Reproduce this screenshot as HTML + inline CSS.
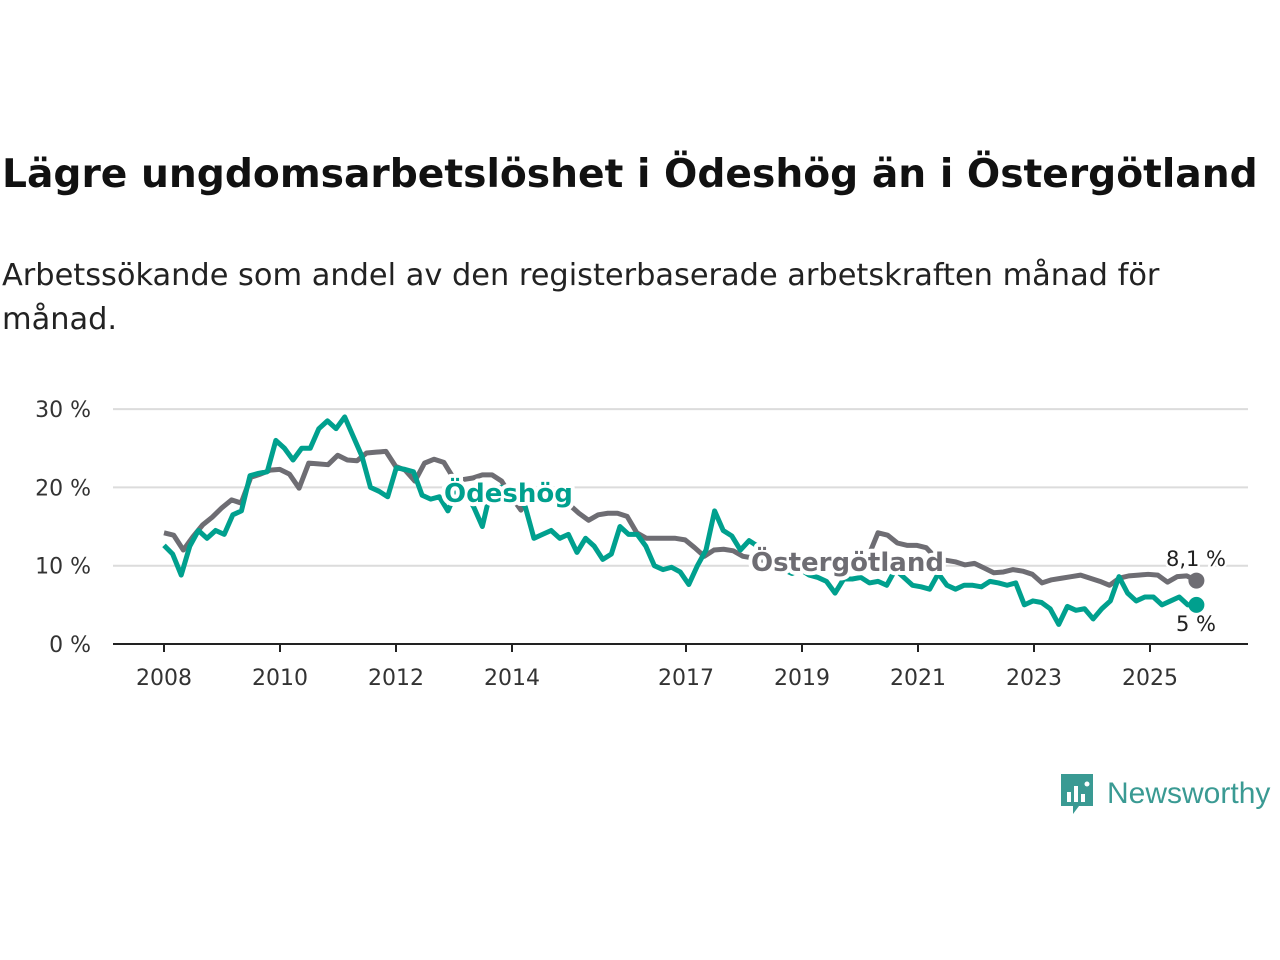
<!DOCTYPE html>
<html><head><meta charset="utf-8"><style>
body{margin:0;width:1280px;height:960px;background:#fff;font-family:"DejaVu Sans","Liberation Sans",sans-serif;overflow:hidden}
h1{position:absolute;left:2px;top:152px;margin:0;font-size:39.2px;font-weight:bold;color:#111;white-space:nowrap}
p.sub{position:absolute;left:2px;top:254px;margin:0;font-size:30.4px;line-height:44px;color:#222;width:1200px}
</style></head><body>
<h1>Lägre ungdomsarbetslöshet i Ödeshög än i Östergötland</h1>
<p class="sub">Arbetssökande som andel av den registerbaserade arbetskraften månad för månad.</p>
<svg id="chart" width="1280" height="960" style="position:absolute;left:0;top:0;font-family:'DejaVu Sans',sans-serif"></svg>
<div style="position:absolute;left:1059px;top:772px;display:flex;align-items:center">
<svg width="36" height="44" viewBox="0 0 36 44"><path d="M2 2h32v32H20l-6 8v-8H2z" fill="#3a9a93"/><rect x="8" y="20" width="4" height="10" fill="#fff"/><rect x="15" y="14" width="4" height="16" fill="#fff"/><rect x="22" y="22" width="4" height="8" fill="#fff"/><circle cx="28" cy="12" r="2.5" fill="#fff"/></svg>
<span style="font-family:'Liberation Sans',sans-serif;font-size:30px;color:#3a9a93;margin-left:12px">Newsworthy</span></div>
<script>
const yTicks=[0,10,20,30];
const xTickYears=[2008,2010,2012,2014,2017,2019,2021,2023,2025];
const ostergotland=[14.2,13.9,12,13.7,15.2,16.2,17.4,18.4,18,21.3,21.7,22.2,22.3,21.7,19.9,23.1,23,22.9,24.1,23.5,23.4,24.4,24.5,24.6,22.7,22.2,20.8,23.1,23.6,23.2,21.2,21,21.2,21.6,21.6,20.8,18.8,17.1,19.7,19.7,19.2,18.4,17.8,16.7,15.8,16.5,16.7,16.7,16.3,14.2,13.5,13.5,13.5,13.5,13.3,12.3,11.2,12,12.1,11.9,11.2,11,10.7,10.5,10.5,10.3,10.1,10,10,10.1,10.3,10.5,10.6,11.2,14.2,13.9,12.9,12.6,12.6,12.3,11,10.7,10.5,10.1,10.3,9.7,9.1,9.2,9.5,9.3,8.9,7.8,8.2,8.4,8.6,8.8,8.4,8,7.5,8.4,8.7,8.8,8.9,8.8,7.9,8.6,8.7,8.1];
const odeshog=[12.6,11.5,8.8,12.5,14.5,13.5,14.5,14,16.5,17,21.5,21.8,22,26,25,23.5,25,25,27.5,28.5,27.5,29,26.5,24,20,19.5,18.8,22.5,22.3,22,19,18.5,18.8,17,19.5,19.3,17.5,15,19.7,20,20,19,17.5,13.5,14,14.5,13.5,14,11.7,13.5,12.5,10.8,11.5,15,14,14,12.5,10,9.5,9.8,9.2,7.6,10,12,17,14.5,13.8,12,13.2,12.5,10.5,10.7,9.5,9,9.5,8.8,8.5,8,6.5,8.3,8.3,8.5,7.8,8,7.5,9.5,8.5,7.5,7.3,7,9,7.5,7,7.5,7.5,7.3,8,7.8,7.5,7.8,5,5.5,5.3,4.5,2.5,4.8,4.3,4.5,3.2,4.5,5.5,8.6,6.5,5.5,6,6,5,5.5,6,5,5];
const startYear=2008,endYear=2025.8;
const X=y=>164+(y-2008)*58, Y=v=>644-v*7.83;
const svg=document.getElementById('chart');const NS='http://www.w3.org/2000/svg';
function mk(t,a,p){const e=document.createElementNS(NS,t);for(const k in a)e.setAttribute(k,a[k]);(p||svg).appendChild(e);return e;}
yTicks.forEach(v=>{
 if(v>0){const g=mk('line',{x1:113,x2:1248,y1:Y(v),y2:Y(v),stroke:'#dcdcdc','stroke-width':2});
 
 }
 const t=mk('text',{x:91,y:Y(v)+8,'text-anchor':'end','font-size':22,fill:'#333'});t.textContent=v+' %';
 
 
});
const ax=mk('line',{x1:113,x2:1248,y1:644,y2:644,stroke:'#222','stroke-width':2});


xTickYears.forEach(yr=>{
 const l=mk('line',{x1:X(yr),x2:X(yr),y1:644,y2:652,stroke:'#222','stroke-width':2});
 
 
 const t=mk('text',{x:X(yr),y:685,'text-anchor':'middle','font-size':22,fill:'#333'});t.textContent=yr;
 
 
});
function line(arr,col,name){
 const n=arr.length;const pts=arr.map((v,i)=>[X(startYear+i*(endYear-startYear)/(n-1)),Y(v)]);
 const p=mk('polyline',{points:pts.map(p=>p.join(',')).join(' '),fill:'none',stroke:col,'stroke-width':5,'stroke-linejoin':'round'});
 
 
 return pts[n-1];
}
const eg=line(ostergotland,'#6e6d73','ostergotland');
const eo=line(odeshog,'#00a08e','odeshog');
const d1=mk('circle',{cx:eg[0],cy:eg[1],r:8,fill:'#6e6d73'});


const d2=mk('circle',{cx:eo[0],cy:eo[1],r:8,fill:'#00a08e'});


function lbl(x,y,txt,col,size,bold,name,anchor){
 const t=mk('text',{x:x,y:y,'text-anchor':anchor||'start','font-size':size,fill:col,'font-weight':bold?'bold':'normal',stroke:'#fff','stroke-width':bold?8:5,'paint-order':'stroke','stroke-linejoin':'round'});t.textContent=txt;
 
 
}
lbl(444,502,'Ödeshög','#00a08e',26,true,'odeshog-label');
lbl(751,571,'Östergötland','#6e6d73',26,true,'ostergotland-label');
lbl(1196,566,ostergotland[ostergotland.length-1].toString().replace('.',',')+' %','#222',21,false,'ostergotland-end-value','middle');
lbl(1196,631,odeshog[odeshog.length-1].toString().replace('.',',')+' %','#222',21,false,'odeshog-end-value','middle');
</script>
</body></html>
